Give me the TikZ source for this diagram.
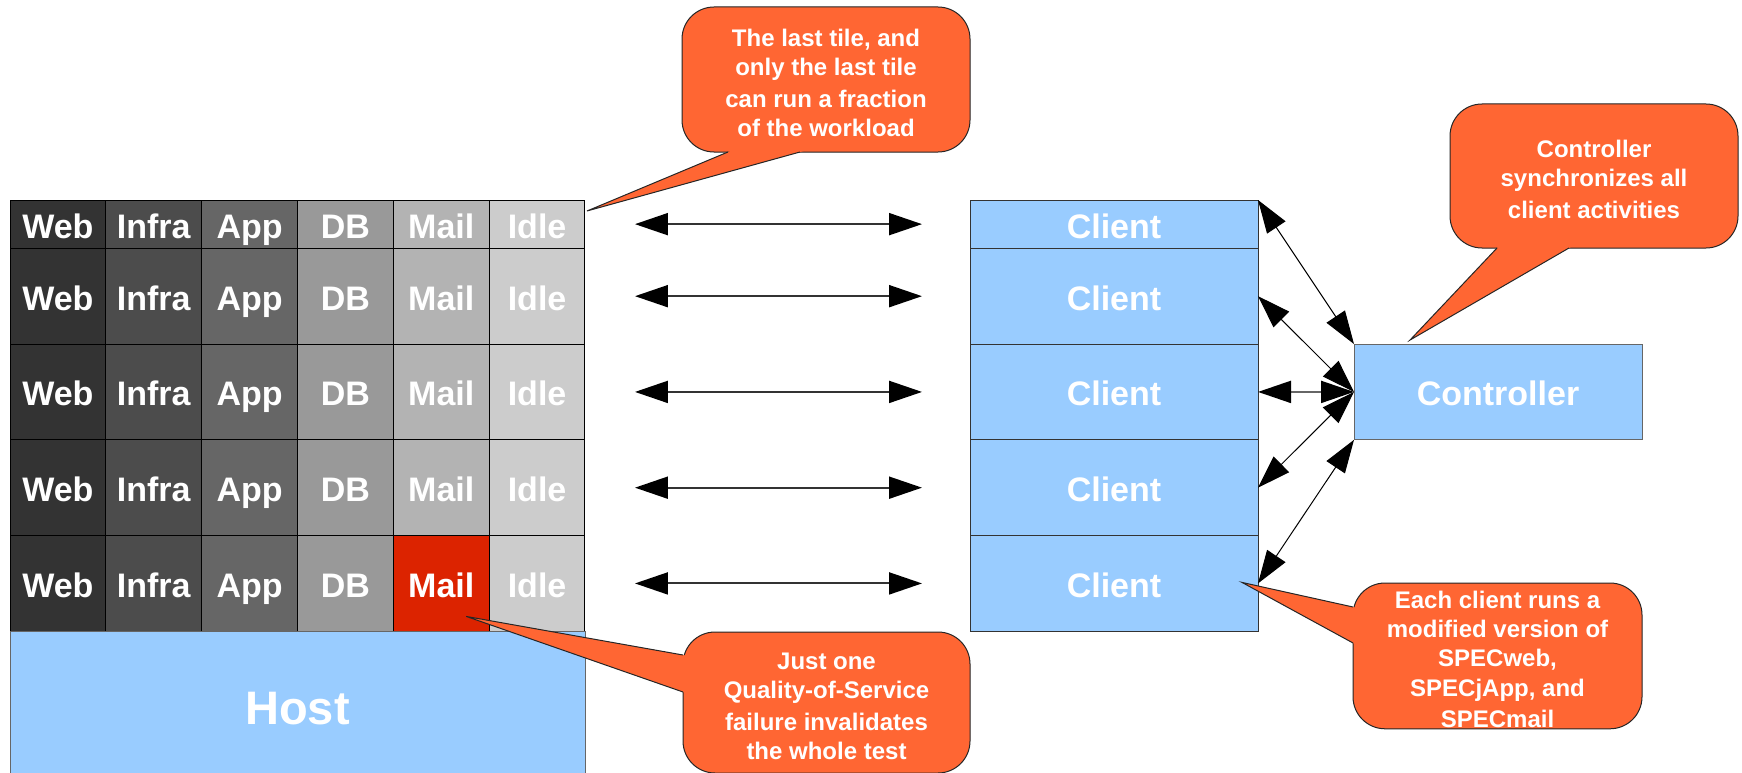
\documentclass[tikz,border=0pt]{standalone}
\usepackage{fontspec}
\setmainfont{Liberation Sans}
\usetikzlibrary{arrows.meta,calc}

\definecolor{tileweb}{HTML}{333333}
\definecolor{tileinfra}{HTML}{4C4C4C}
\definecolor{tileapp}{HTML}{666666}
\definecolor{tiledb}{HTML}{999999}
\definecolor{tilemail}{HTML}{B3B3B3}
\definecolor{tileidle}{HTML}{CCCCCC}
\definecolor{failred}{HTML}{DC2300}
\definecolor{sysblue}{HTML}{99CCFF}
\definecolor{noteorange}{HTML}{FF6633}
\definecolor{edgedark}{HTML}{333333}
\definecolor{edgegray}{HTML}{666666}

% strut giving every note line the same ascent and descent
\newcommand\notestrut{\rule[-1.4pt]{0pt}{26.8pt}}
% wedge of a speech bubble: #1 base point, #2 tip, #3 base point
\newcommand\notepointer[3]{%
  \fill[notefill] ($(#2)!1.06!(#1)$) -- (#2) -- ($(#2)!1.06!(#3)$) -- cycle;
  \draw[noteedge] (#1) -- (#2) -- (#3);}

\begin{document}
\begin{tikzpicture}[x=1pt,y=-1pt,
  tile/.style={draw=black, line width=1pt, fill=#1, anchor=north west,
    minimum width=95.83pt, inner sep=0pt, outer sep=0pt, text=white,
    font=\fontsize{34}{40}\selectfont\bfseries, text height=28pt, text depth=0pt},
  sysbox/.style={draw=edgedark, line width=1pt, fill=sysblue, anchor=north west,
    minimum width=288pt, inner sep=0pt, outer sep=0pt, text=white,
    font=\fontsize{34}{40}\selectfont\bfseries, text height=28pt, text depth=0pt},
  hostbox/.style={draw=edgegray, line width=1pt, fill=sysblue, anchor=north west,
    minimum width=575pt, minimum height=152pt, inner sep=0pt, outer sep=0pt,
    text=white, font=\fontsize{47}{56}\selectfont\bfseries,
    text height=34pt, text depth=0pt},
  note/.style={draw=black!85, line width=1pt, fill=noteorange, rounded corners=32pt,
    anchor=north west, minimum width=288pt, inner sep=0pt, outer sep=0pt,
    text=white, align=center, font=\fontsize{24}{29.2}\selectfont\bfseries},
  notefill/.style={fill=noteorange},
  noteedge/.style={draw=black!85, line width=1pt, line join=miter},
  duplex/.style={arrows={Triangle[length=33pt,width=22pt,color=black]-Triangle[length=33pt,width=22pt,color=black]}},
  rowlink/.style={duplex, draw=edgedark, line width=2pt, shorten <=50pt, shorten >=48pt},
  ctllink/.style={duplex, draw=black, line width=1pt},
]
\useasboundingbox (0,0) rectangle (1742,773);

% workload tiles and the matching clients
\foreach \rowi/\ty/\rh in {1/200/48.3, 2/248.3/95.75, 3/344.05/95.75, 4/439.8/95.75, 5/535.55/95.75}{
  \foreach \coli/\lab/\shade in {1/Web/tileweb, 2/Infra/tileinfra, 3/App/tileapp,
                                 4/DB/tiledb, 5/Mail/tilemail, 6/Idle/tileidle}{
    \ifnum\rowi\coli=55 \def\shade{failred}\fi
    \node[tile=\shade, minimum height=\rh pt] (c-\rowi-\coli)
      at ({10+(\coli-1)*95.83},\ty) {\lab};
  }
  \node[sysbox, minimum height=\rh pt] (cl-\rowi) at (970,\ty) {Client};
}

\node[hostbox] (host) at (10,631.3) {Host};
\node[sysbox, draw=edgegray, minimum height=95.75pt] (ctrl) at (1354,344.05) {Controller};

% tile <-> client traffic
\foreach \rowi in {1,...,5}
  \draw[rowlink] (c-\rowi-6.east) -- (cl-\rowi.west);

% client <-> controller synchronisation
\draw[ctllink] (cl-1.north east) -- (ctrl.north west);
\draw[ctllink] (cl-2.east) -- (ctrl.west);
\draw[ctllink, draw=edgegray, line width=2pt] (cl-3.east) -- (ctrl.west);
\draw[ctllink] (cl-4.east) -- (ctrl.west);
\draw[ctllink] (cl-5.east) -- (ctrl.south west);

% speech bubbles
\node[note, minimum height=145pt] (noteA) at (682,7)
  {\notestrut The last tile, and\\ \notestrut only the last tile\\
   \notestrut can run a fraction\\ \notestrut of the workload};
\coordinate (noteA-b1) at ($(noteA.south west)+(46,0)$);
\coordinate (noteA-b2) at ($(noteA.south west)+(118,0)$);
\coordinate (noteA-tip) at ($(c-1-6.north east)+(2,11)$);
\notepointer{noteA-b1}{noteA-tip}{noteA-b2}

\node[note, minimum height=144pt] (noteB) at (1450,104)
  {\notestrut Controller\\ \notestrut synchronizes all\\ \notestrut client activities};
\coordinate (noteB-b1) at ($(noteB.south west)+(47,0)$);
\coordinate (noteB-b2) at ($(noteB.south west)+(119,0)$);
\coordinate (noteB-tip) at ($(ctrl.north west)+(56,-4)$);
\notepointer{noteB-b1}{noteB-tip}{noteB-b2}

\node[note, minimum width=287pt, minimum height=141pt] (noteC) at (683,632)
  {\notestrut Just one\\ \notestrut Quality-of-Service\\
   \notestrut failure invalidates\\ \notestrut the whole test};
\coordinate (noteC-b1) at ($(noteC.north west)+(0,23)$);
\coordinate (noteC-b2) at ($(noteC.north west)+(0,60)$);
\coordinate (noteC-tip) at ($(c-5-5.center)+(25,33)$);
\notepointer{noteC-b1}{noteC-tip}{noteC-b2}

\node[note, minimum width=289pt, minimum height=145pt] (noteD) at (1353,583)
  {\notestrut Each client runs a\\ \notestrut modified version of\\ \notestrut SPECweb,\\
   \notestrut SPECjApp, and\\ \notestrut SPECmail};
\coordinate (noteD-b1) at ($(noteD.north west)+(0,24)$);
\coordinate (noteD-b2) at ($(noteD.north west)+(0,60)$);
\coordinate (noteD-tip) at ($(cl-5.east)+(-16,-1)$);
\notepointer{noteD-b1}{noteD-tip}{noteD-b2}
\end{tikzpicture}
\end{document}
